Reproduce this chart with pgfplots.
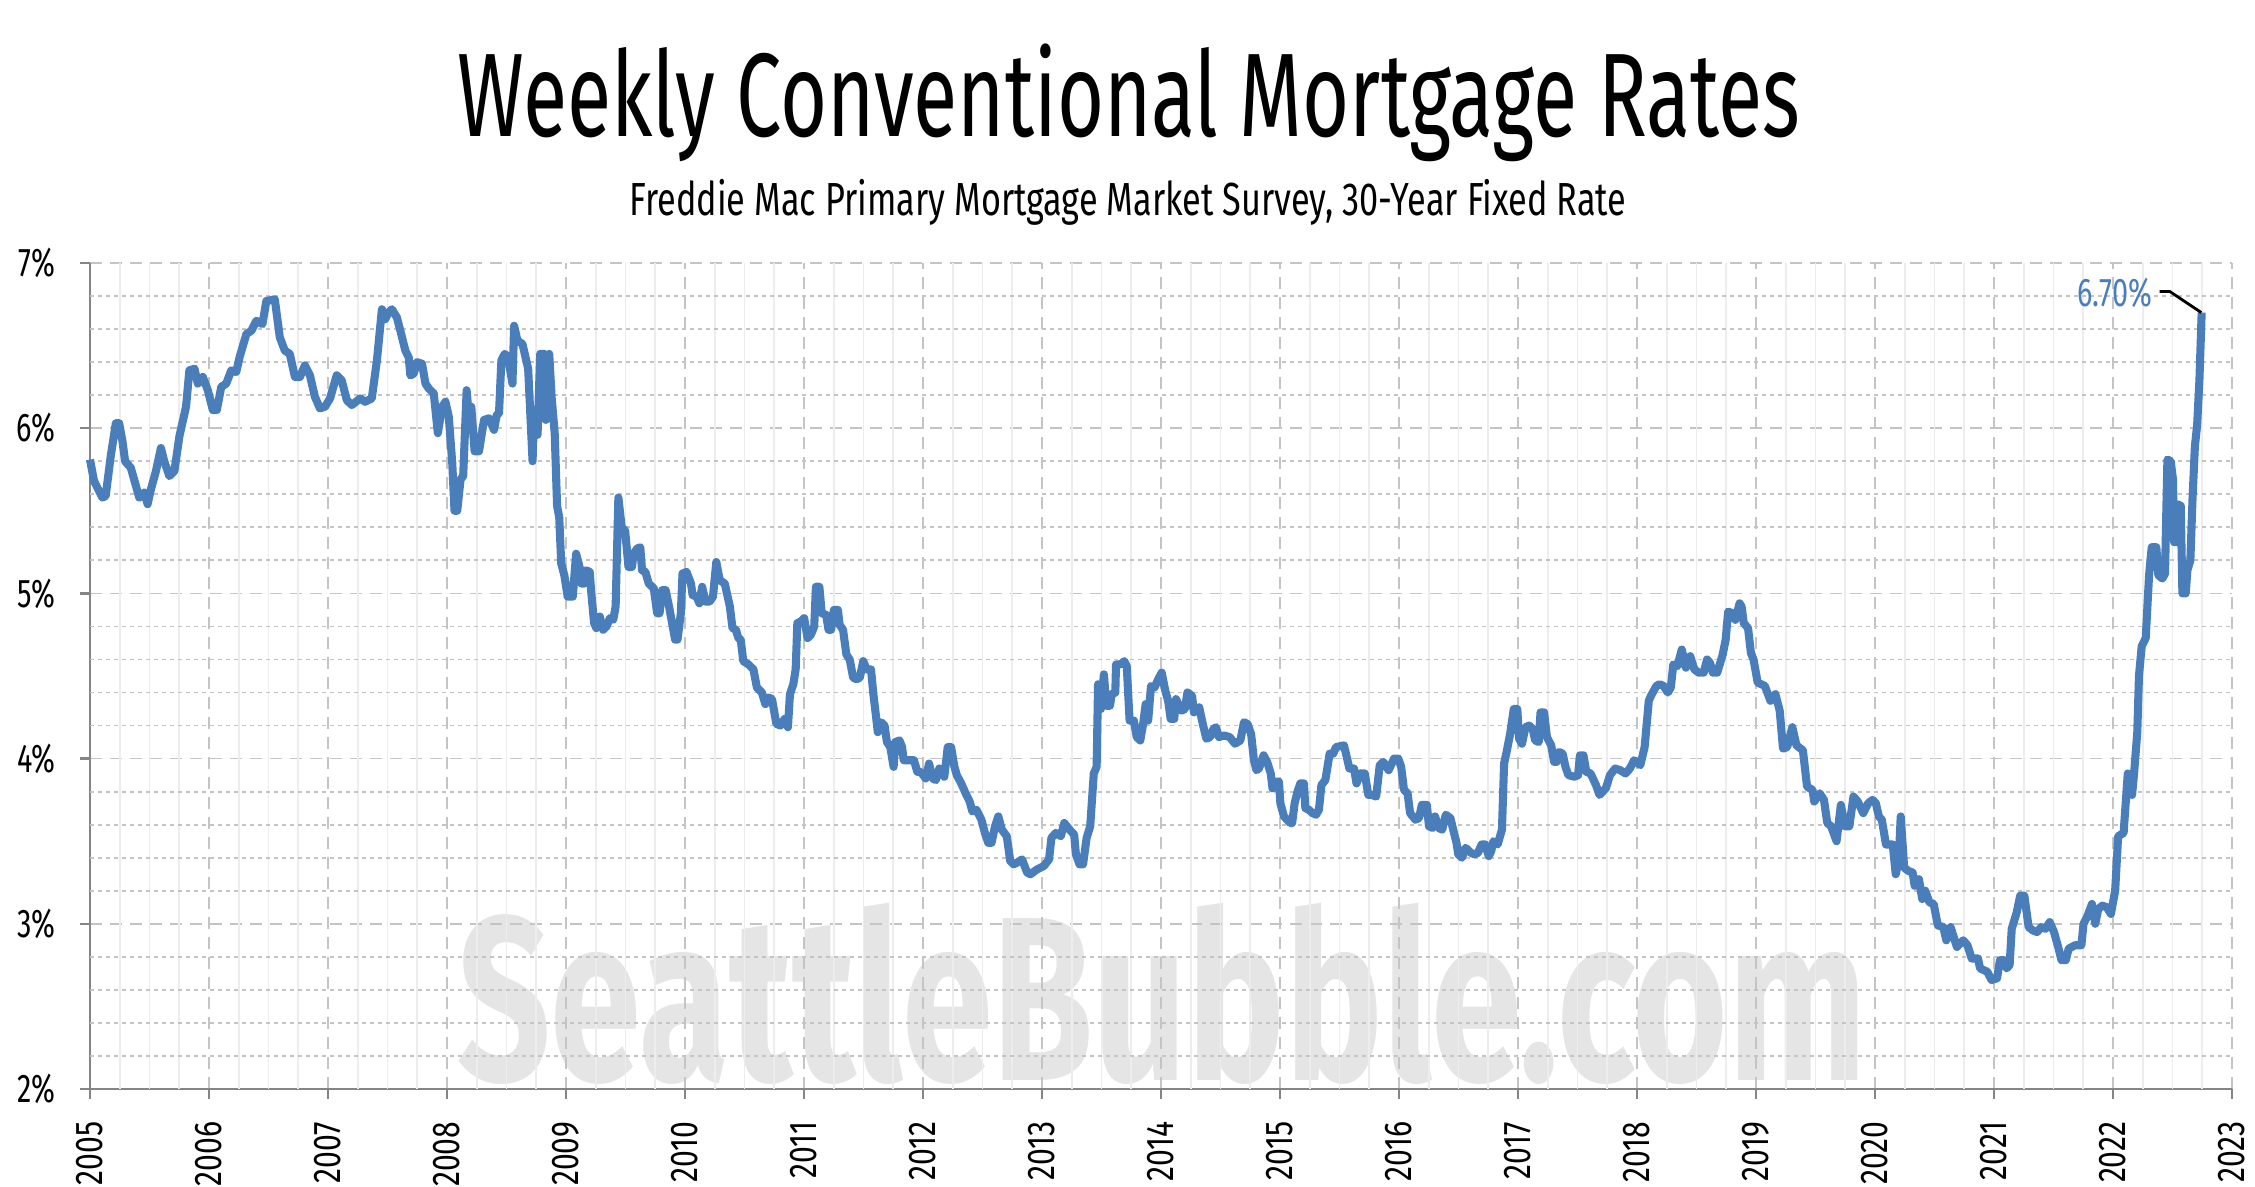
\documentclass[border=0pt]{standalone}
\usepackage{fontspec}
\usepackage{graphicx}
\usepackage{pgfplots}
\pgfplotsset{compat=1.18}
\newfontfamily\osw{Fira Sans}[FakeStretch=0.72]
\newfontfamily\fira{Fira Sans}
\definecolor{linec}{HTML}{4A7EBB}
\definecolor{gridc}{HTML}{C4C4C4}
\definecolor{axc}{HTML}{858585}
\newlength\natw
\newcommand\fitto[2]{\settowidth\natw{#2}\pgfmathsetmacro\sx{#1/\natw}\scalebox{\sx}[1]{#2}}
\newcommand\xl[1]{\scalebox{0.78}[1]{#1}}
\begin{document}
\begin{tikzpicture}
\path[use as bounding box] (-9.0mm,-9.8mm) rectangle (216.5mm,108.9mm);
\node[anchor=base,inner sep=0pt,text=black!10] at (107.2mm,0.8mm)
  {\fitto{141mm}{\osw\bfseries\fontsize{66.5pt}{70pt}\selectfont SeattleBubble.com}};
\node[anchor=base,inner sep=0pt] at (103.9mm,95.2mm)
  {\fitto{134.3mm}{\osw\fontsize{33.8pt}{40pt}\selectfont Weekly Conventional Mortgage Rates}};
\node[anchor=base,inner sep=0pt] at (103.8mm,87.3mm)
  {\fitto{99.7mm}{\osw\fontsize{13.2pt}{16pt}\selectfont Freddie Mac Primary Mortgage Market Survey, 30-Year Fixed Rate}};
\begin{axis}[
  at={(0,0)}, anchor=south west,
  scale only axis, width=214.2mm, height=82.6mm,
  xmin=2005, xmax=2023, ymin=2, ymax=7,
  axis x line*=bottom, axis y line*=left,
  axis line style={axc, line width=0.7pt},
  tick align=outside, major tick length=1.0mm,
  tick style={axc, line width=0.7pt},
  xtick={2005,2006,...,2023},
  xticklabels={\xl{2005},\xl{2006},\xl{2007},\xl{2008},\xl{2009},\xl{2010},\xl{2011},\xl{2012},\xl{2013},\xl{2014},\xl{2015},\xl{2016},\xl{2017},\xl{2018},\xl{2019},\xl{2020},\xl{2021},\xl{2022},\xl{2023}},
  ytick={2,3,4,5,6,7},
  yticklabels={2\%,3\%,4\%,5\%,6\%,7\%},
  xticklabel shift=2.2mm,
  xticklabel style={rotate=90, anchor=east, font=\fira\fontsize{11pt}{13pt}\selectfont, inner sep=0pt},
  yticklabel style={font=\osw\fontsize{11.4pt}{13pt}\selectfont, inner sep=0pt, xshift=-2.4mm},
  grid=major,
  major grid style={gridc, dash pattern=on 1.2mm off 0.8mm, line width=0.45pt},
  extra x ticks={2005.25,2005.5,2005.75,2006.25,2006.5,2006.75,2007.25,2007.5,2007.75,2008.25,2008.5,2008.75,2009.25,2009.5,2009.75,2010.25,2010.5,2010.75,2011.25,2011.5,2011.75,2012.25,2012.5,2012.75,2013.25,2013.5,2013.75,2014.25,2014.5,2014.75,2015.25,2015.5,2015.75,2016.25,2016.5,2016.75,2017.25,2017.5,2017.75,2018.25,2018.5,2018.75,2019.25,2019.5,2019.75,2020.25,2020.5,2020.75,2021.25,2021.5,2021.75,2022.25,2022.5,2022.75},
  extra x tick labels={},
  extra x tick style={grid=major, major tick length=0pt, major grid style={black!7, solid, line width=0.45pt}},
  extra y ticks={2.2,2.4,2.6,2.8,3.2,3.4,3.6,3.8,4.2,4.4,4.6,4.8,5.2,5.4,5.6,5.8,6.2,6.4,6.6,6.8},
  extra y tick labels={},
  extra y tick style={grid=major, major tick length=0pt, major grid style={gridc, dash pattern=on 0.35mm off 0.45mm, line width=0.5pt}},
  clip=false,
]
\addplot[linec, line width=2.3pt, line join=round] coordinates {
(2005.000,5.81) (2005.034,5.68) (2005.104,5.58) (2005.132,5.59) (2005.174,5.83) (2005.217,6.03) (2005.245,6.03) (2005.273,5.92) (2005.295,5.80) (2005.343,5.76) (2005.414,5.58) (2005.456,5.61) (2005.484,5.54) (2005.512,5.63) (2005.554,5.74) (2005.596,5.88) (2005.624,5.80) (2005.667,5.71) (2005.709,5.74) (2005.751,5.95) (2005.807,6.13) (2005.835,6.35) (2005.878,6.36) (2005.906,6.27) (2005.948,6.31) (2005.990,6.23)
(2006.032,6.11) (2006.066,6.11) (2006.103,6.25) (2006.145,6.27) (2006.187,6.35) (2006.229,6.34) (2006.257,6.43) (2006.314,6.57) (2006.356,6.59) (2006.398,6.65) (2006.449,6.63) (2006.482,6.77) (2006.553,6.78) (2006.595,6.55) (2006.637,6.47) (2006.679,6.45) (2006.722,6.31) (2006.764,6.31) (2006.806,6.38) (2006.848,6.32) (2006.890,6.19) (2006.932,6.12) (2006.975,6.13)
(2007.017,6.18) (2007.073,6.32) (2007.115,6.29) (2007.158,6.17) (2007.200,6.14) (2007.270,6.18) (2007.312,6.16) (2007.368,6.18) (2007.411,6.41) (2007.453,6.72) (2007.481,6.66) (2007.509,6.70) (2007.537,6.72) (2007.579,6.67) (2007.608,6.59) (2007.650,6.47) (2007.678,6.43) (2007.692,6.32) (2007.720,6.33) (2007.748,6.40) (2007.790,6.39) (2007.819,6.27) (2007.847,6.24) (2007.889,6.21) (2007.923,5.97) (2007.959,6.13) (2007.987,6.16)
(2008.015,6.07) (2008.044,5.79) (2008.063,5.50) (2008.086,5.50) (2008.114,5.69) (2008.136,5.71) (2008.165,6.23) (2008.184,6.07) (2008.204,6.13) (2008.232,5.86) (2008.269,5.86) (2008.311,6.05) (2008.353,6.06) (2008.395,5.99) (2008.418,6.08) (2008.437,6.09) (2008.457,6.41) (2008.485,6.45) (2008.513,6.43) (2008.550,6.27) (2008.564,6.62) (2008.592,6.53) (2008.634,6.51) (2008.682,6.36) (2008.719,5.80) (2008.733,6.11) (2008.761,5.96) (2008.783,6.45) (2008.817,6.45) (2008.831,6.05) (2008.859,6.45) (2008.879,6.19) (2008.905,5.97) (2008.925,5.53) (2008.943,5.46) (2008.960,5.18) (2008.986,5.11)
(2009.014,4.98) (2009.057,4.98) (2009.085,5.24) (2009.114,5.16) (2009.128,5.06) (2009.156,5.06) (2009.170,5.14) (2009.199,5.13) (2009.213,5.00) (2009.236,4.82) (2009.255,4.79) (2009.284,4.86) (2009.312,4.78) (2009.341,4.80) (2009.369,4.85) (2009.397,4.84) (2009.417,4.92) (2009.440,5.58) (2009.468,5.40) (2009.497,5.38) (2009.525,5.16) (2009.554,5.16) (2009.568,5.24) (2009.596,5.27) (2009.624,5.28) (2009.639,5.14) (2009.667,5.13) (2009.695,5.06) (2009.738,5.03) (2009.766,4.88) (2009.786,4.88) (2009.809,5.02) (2009.837,5.02) (2009.866,4.92) (2009.917,4.72) (2009.937,4.72) (2009.965,4.88) (2009.979,5.12)
(2010.013,5.13) (2010.050,5.06) (2010.064,4.99) (2010.098,4.98) (2010.121,4.94) (2010.144,5.04) (2010.172,4.95) (2010.206,4.95) (2010.235,4.98) (2010.263,5.19) (2010.292,5.08) (2010.334,5.06) (2010.377,4.92) (2010.399,4.79) (2010.428,4.78) (2010.448,4.73) (2010.468,4.72) (2010.490,4.59) (2010.533,4.57) (2010.575,4.54) (2010.604,4.43) (2010.646,4.40) (2010.675,4.33) (2010.703,4.37) (2010.731,4.36) (2010.768,4.21) (2010.802,4.20) (2010.837,4.24) (2010.865,4.19) (2010.882,4.39) (2010.910,4.45) (2010.930,4.54) (2010.944,4.82) (2010.973,4.83)
(2011.001,4.85) (2011.030,4.73) (2011.058,4.75) (2011.086,4.80) (2011.100,5.04) (2011.129,5.04) (2011.149,4.88) (2011.186,4.87) (2011.206,4.78) (2011.228,4.78) (2011.251,4.90) (2011.285,4.90) (2011.299,4.81) (2011.328,4.78) (2011.356,4.63) (2011.384,4.60) (2011.413,4.49) (2011.441,4.48) (2011.469,4.49) (2011.498,4.59) (2011.526,4.54) (2011.563,4.54) (2011.583,4.39) (2011.606,4.25) (2011.620,4.16) (2011.648,4.22) (2011.677,4.20) (2011.697,4.10) (2011.725,4.07) (2011.753,3.95) (2011.768,4.10) (2011.802,4.11) (2011.824,4.07) (2011.838,3.99) (2011.881,3.99) (2011.924,3.99) (2011.952,3.92) (2011.980,3.92)
(2012.023,3.88) (2012.051,3.97) (2012.080,3.88) (2012.108,3.87) (2012.137,3.94) (2012.179,3.89) (2012.208,4.07) (2012.236,4.07) (2012.264,3.95) (2012.284,3.90) (2012.321,3.85) (2012.358,3.79) (2012.392,3.74) (2012.415,3.68) (2012.449,3.69) (2012.491,3.63) (2012.520,3.55) (2012.548,3.49) (2012.576,3.49) (2012.605,3.59) (2012.633,3.65) (2012.662,3.57) (2012.704,3.53) (2012.733,3.38) (2012.761,3.36) (2012.790,3.37) (2012.832,3.39) (2012.875,3.31) (2012.903,3.30) (2012.960,3.33)
(2013.016,3.35) (2013.059,3.39) (2013.079,3.52) (2013.116,3.55) (2013.158,3.53) (2013.187,3.61) (2013.231,3.57) (2013.270,3.54) (2013.285,3.42) (2013.315,3.36) (2013.345,3.36) (2013.375,3.52) (2013.405,3.59) (2013.435,3.91) (2013.459,3.95) (2013.471,4.45) (2013.495,4.30) (2013.520,4.51) (2013.541,4.32) (2013.571,4.32) (2013.586,4.39) (2013.616,4.40) (2013.622,4.57) (2013.661,4.57) (2013.691,4.59) (2013.712,4.56) (2013.736,4.23) (2013.772,4.23) (2013.796,4.13) (2013.826,4.11) (2013.850,4.21) (2013.871,4.33) (2013.892,4.23) (2013.916,4.44) (2013.946,4.43) (2013.976,4.48)
(2014.006,4.52) (2014.036,4.41) (2014.060,4.35) (2014.081,4.24) (2014.111,4.24) (2014.126,4.36) (2014.171,4.29) (2014.201,4.30) (2014.222,4.40) (2014.261,4.38) (2014.276,4.28) (2014.321,4.31) (2014.351,4.21) (2014.381,4.12) (2014.411,4.13) (2014.441,4.18) (2014.462,4.19) (2014.486,4.13) (2014.532,4.14) (2014.577,4.13) (2014.622,4.09) (2014.667,4.11) (2014.697,4.22) (2014.727,4.21) (2014.757,4.15) (2014.781,3.99) (2014.802,3.93) (2014.823,3.94) (2014.862,4.02) (2014.892,3.98) (2014.922,3.91) (2014.937,3.82) (2014.967,3.86) (2014.991,3.86)
(2015.003,3.73) (2015.033,3.65) (2015.087,3.61) (2015.102,3.61) (2015.123,3.73) (2015.147,3.80) (2015.171,3.85) (2015.201,3.85) (2015.213,3.70) (2015.243,3.69) (2015.273,3.67) (2015.303,3.66) (2015.327,3.69) (2015.348,3.84) (2015.381,3.87) (2015.417,4.03) (2015.447,4.03) (2015.471,4.07) (2015.538,4.08) (2015.583,3.94) (2015.622,3.94) (2015.643,3.85) (2015.673,3.91) (2015.712,3.91) (2015.742,3.78) (2015.772,3.78) (2015.808,3.77) (2015.838,3.96) (2015.868,3.98) (2015.913,3.93) (2015.958,4.00) (2015.994,4.00)
(2016.018,3.95) (2016.042,3.81) (2016.072,3.79) (2016.093,3.67) (2016.138,3.63) (2016.168,3.64) (2016.192,3.72) (2016.234,3.72) (2016.252,3.59) (2016.282,3.58) (2016.303,3.65) (2016.333,3.58) (2016.363,3.57) (2016.393,3.66) (2016.432,3.64) (2016.462,3.55) (2016.483,3.49) (2016.498,3.42) (2016.529,3.40) (2016.559,3.46) (2016.604,3.43) (2016.634,3.42) (2016.664,3.43) (2016.694,3.48) (2016.724,3.48) (2016.754,3.41) (2016.775,3.44) (2016.793,3.50) (2016.829,3.48) (2016.865,3.57) (2016.883,3.97) (2016.904,4.04) (2016.934,4.15) (2016.964,4.30) (2016.994,4.30)
(2017.009,4.12) (2017.033,4.09) (2017.063,4.19) (2017.093,4.20) (2017.123,4.18) (2017.144,4.11) (2017.174,4.10) (2017.189,4.28) (2017.219,4.28) (2017.243,4.13) (2017.279,4.08) (2017.303,3.98) (2017.324,3.98) (2017.345,4.04) (2017.375,4.03) (2017.399,3.95) (2017.423,3.90) (2017.474,3.89) (2017.505,3.90) (2017.520,4.02) (2017.550,4.02) (2017.574,3.92) (2017.610,3.91) (2017.655,3.84) (2017.685,3.78) (2017.738,3.82) (2017.773,3.90) (2017.816,3.94) (2017.858,3.93) (2017.904,3.91) (2017.940,3.94) (2017.975,3.99)
(2018.028,3.96) (2018.064,4.07) (2018.099,4.35) (2018.117,4.38) (2018.163,4.44) (2018.188,4.45) (2018.223,4.44) (2018.259,4.40) (2018.284,4.43) (2018.305,4.57) (2018.340,4.56) (2018.376,4.66) (2018.411,4.55) (2018.447,4.62) (2018.482,4.54) (2018.518,4.52) (2018.560,4.52) (2018.589,4.60) (2018.613,4.58) (2018.638,4.52) (2018.674,4.52) (2018.720,4.63) (2018.745,4.72) (2018.766,4.89) (2018.801,4.88) (2018.826,4.84) (2018.862,4.94) (2018.879,4.92) (2018.897,4.82) (2018.933,4.79) (2018.957,4.64) (2018.979,4.60)
(2019.014,4.46) (2019.074,4.44) (2019.121,4.35) (2019.163,4.39) (2019.199,4.29) (2019.227,4.06) (2019.262,4.07) (2019.305,4.19) (2019.340,4.08) (2019.394,4.05) (2019.429,3.83) (2019.475,3.81) (2019.489,3.74) (2019.535,3.79) (2019.571,3.75) (2019.599,3.61) (2019.631,3.59) (2019.677,3.50) (2019.713,3.72) (2019.748,3.59) (2019.784,3.59) (2019.819,3.77) (2019.855,3.74) (2019.901,3.67) (2019.943,3.73) (2019.979,3.75)
(2020.007,3.73) (2020.032,3.65) (2020.057,3.63) (2020.092,3.48) (2020.149,3.48) (2020.174,3.30) (2020.199,3.38) (2020.216,3.65) (2020.245,3.34) (2020.280,3.32) (2020.316,3.31) (2020.333,3.23) (2020.369,3.27) (2020.397,3.15) (2020.422,3.20) (2020.457,3.13) (2020.493,3.12) (2020.528,2.99) (2020.574,2.98) (2020.599,2.90) (2020.635,2.98) (2020.688,2.86) (2020.741,2.90) (2020.777,2.87) (2020.812,2.79) (2020.865,2.79) (2020.883,2.73) (2020.943,2.71) (2020.979,2.66)
(2021.025,2.67) (2021.050,2.78) (2021.078,2.78) (2021.106,2.73) (2021.131,2.75) (2021.149,2.97) (2021.191,3.07) (2021.220,3.17) (2021.255,3.17) (2021.291,2.98) (2021.326,2.96) (2021.362,2.95) (2021.397,2.98) (2021.433,2.97) (2021.468,3.01) (2021.504,2.95) (2021.539,2.86) (2021.567,2.78) (2021.603,2.78) (2021.628,2.85) (2021.681,2.87) (2021.734,2.87) (2021.752,3.00) (2021.787,3.05) (2021.823,3.12) (2021.851,3.00) (2021.876,3.09) (2021.911,3.11) (2021.947,3.10) (2021.982,3.06)
(2022.018,3.20) (2022.043,3.53) (2022.089,3.55) (2022.124,3.91) (2022.160,3.78) (2022.177,3.91) (2022.204,4.16) (2022.218,4.50) (2022.241,4.68) (2022.275,4.73) (2022.303,5.11) (2022.325,5.28) (2022.364,5.28) (2022.381,5.11) (2022.415,5.09) (2022.437,5.12) (2022.457,5.81) (2022.485,5.80) (2022.504,5.69) (2022.513,5.31) (2022.535,5.31) (2022.541,5.54) (2022.569,5.53) (2022.583,5.00) (2022.611,5.00) (2022.625,5.14) (2022.650,5.20) (2022.668,5.57) (2022.688,5.89) (2022.707,6.02) (2022.726,6.29) (2022.745,6.70)
};
\draw[black, line width=0.8pt] (axis cs:2022.392,6.828) -- (axis cs:2022.476,6.828) -- (axis cs:2022.742,6.70);
\node[anchor=east, inner sep=0pt, text=linec, font=\osw\fontsize{11.4pt}{13pt}\selectfont] at (axis cs:2022.335,6.82) {6.70\%};
\end{axis}
\end{tikzpicture}
\end{document}
